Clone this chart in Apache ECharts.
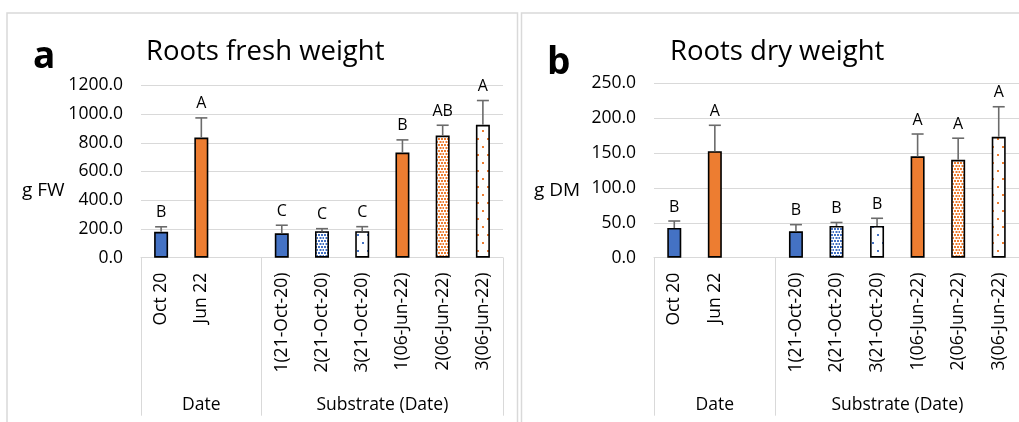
<!DOCTYPE html>
<html>
<head>
<meta charset="utf-8">
<script src="https://cdn.jsdelivr.net/npm/echarts@6/dist/echarts.min.js"></script>
<style>
html,body{margin:0;padding:0;background:#fff;}
#c{width:1019px;height:422px;}
</style>
</head>
<body>
<div id="c"></div>
<script>
// ---- data ----
const categories = ['Oct 20','Jun 22','','1(21-Oct-20)','2(21-Oct-20)','3(21-Oct-20)','1(06-Jun-22)','2(06-Jun-22)','3(06-Jun-22)'];
const fillKinds = ['blue','orange',null,'blue','blueDense','blueSparse','orange','orangeDense','orangeSparse'];
const freshMean = [180, 836, null, 170, 184, 184, 732, 850, 925];
const freshErr  = [35, 137, null, 56, 18, 32, 88, 72, 169];
const freshLetters = ['B','A','','C','C','C','B','AB','A'];
const dryMean = [42.5, 152.5, null, 37.8, 45.4, 45.4, 145, 140, 173];
const dryErr  = [10, 37, null, 9.5, 5, 11, 32, 31, 43];
const dryLetters = ['B','A','','B','B','B','A','A','A'];
const groupLabels = ['Date','Substrate (Date)'];
const groupCenters = [1.5, 6];
const groupBounds = [0, 3, 9];
const freshTicks = {max:1200, interval:200};
const dryTicks = {max:250, interval:50};

const BLUE = '#4472C4', ORANGE = '#ED7D31';
const FONT = 'Open Sans';

function makePattern(color, dense){
  const c = document.createElement('canvas');
  if (dense){
    c.width = 6; c.height = 6;
    const g = c.getContext('2d');
    g.fillStyle = '#fff'; g.fillRect(0,0,6,6);
    g.fillStyle = color;
    g.fillRect(0,0,2,2);
    g.fillRect(3,0,2,2);
    g.fillRect(1.5,3,2,2);
    g.fillRect(4.5,3,2,2);
  } else {
    c.width = 10; c.height = 16;
    const g = c.getContext('2d');
    g.fillStyle = '#fff'; g.fillRect(0,0,10,16);
    g.fillStyle = color;
    g.fillRect(2,2,2,2);
    g.fillRect(7,10,2,2);
  }
  return {image: c, repeat: 'repeat'};
}
const fills = {
  blue: BLUE, orange: ORANGE,
  blueDense: makePattern(BLUE, true), blueSparse: makePattern(BLUE, false),
  orangeDense: makePattern(ORANGE, true), orangeSparse: makePattern(ORANGE, false)
};

function barData(means){
  return means.map((v,i)=> v==null ? '-' : {value:v, itemStyle:{color: fills[fillKinds[i]]}});
}
function errData(means, errs){
  const out = [];
  means.forEach((v,i)=>{ if(v!=null) out.push([i, v, errs[i]]); });
  return out;
}
function errRender(letters){
  return function(params, api){
    const i = api.value(0), m = api.value(1), e = api.value(2);
    const p1 = api.coord([i, m]);
    const p2 = api.coord([i, m+e]);
    const st = {stroke:'#6b6b6b', lineWidth:1.6};
    return {type:'group', children:[
      {type:'line', shape:{x1:p1[0],y1:p1[1],x2:p2[0],y2:p2[1]}, style:st},
      {type:'line', shape:{x1:p2[0]-6,y1:p2[1],x2:p2[0]+6,y2:p2[1]}, style:st},
      {type:'text', x:p2[0], y:p2[1]-6, style:{text:letters[i], fill:'#000', font:'16px "'+FONT+'"', align:'center', verticalAlign:'bottom'}}
    ]};
  };
}

const grids = [
  {left:141, top:85.3, width:362, height:172.4},
  {left:654, top:83, width:370.8, height:174.7}
];

function xAxesFor(gi){
  return [
    {type:'category', gridIndex:gi, data:categories,
     axisLine:{lineStyle:{color:'#d9d9d9', width:1}},
     axisTick:{show:false},
     axisLabel:{rotate:90, margin:15, color:'#000', fontFamily:FONT, fontSize:17.5}},
    {type:'value', gridIndex:gi, position:'bottom', min:0, max:9,
     axisLine:{show:false}, splitLine:{show:false},
     axisTick:{show:true, customValues:groupBounds, length:158, lineStyle:{color:'#d9d9d9', width:1}},
     axisLabel:{customValues:groupCenters, margin:138, color:'#000', fontFamily:FONT, fontSize:17.5,
       formatter:(v)=> groupLabels[groupCenters.indexOf(v)]}}
  ];
}
function yAxisFor(gi, t){
  return {type:'value', gridIndex:gi, min:0, max:t.max, interval:t.interval,
    axisLine:{show:false}, axisTick:{show:false},
    splitLine:{lineStyle:{color:'#d9d9d9', width:1.2}},
    axisLabel:{formatter:(v)=>v.toFixed(1), color:'#000', fontFamily:FONT, fontSize:17.5, margin:18}};
}

const chart = echarts.init(document.getElementById('c'), null, {renderer:'canvas'});
chart.setOption({
  animation:false,
  backgroundColor:'#fff',
  title:[
    {text:'Roots fresh weight', left:141, top:33, textStyle:{fontFamily:FONT, fontSize:27.5, fontWeight:'normal', color:'#000'}},
    {text:'a', left:28, top:34, textStyle:{fontFamily:FONT, fontSize:37, fontWeight:'bold', color:'#000'}},
    {text:'g FW', left:17, top:176, textStyle:{fontFamily:FONT, fontSize:19, fontWeight:'normal', color:'#000'}},
    {text:'Roots dry weight', left:665, top:33, textStyle:{fontFamily:FONT, fontSize:27.5, fontWeight:'normal', color:'#000'}},
    {text:'b', left:542, top:40, textStyle:{fontFamily:FONT, fontSize:37, fontWeight:'bold', color:'#000'}},
    {text:'g DM', left:529, top:176, textStyle:{fontFamily:FONT, fontSize:19, fontWeight:'normal', color:'#000'}}
  ],
  graphic:[
    {type:'rect', shape:{x:7, y:13, width:510.5, height:430}, style:{fill:'none', stroke:'#d9d9d9', lineWidth:1.5}, silent:true, z:-1},
    {type:'rect', shape:{x:521.5, y:13, width:520, height:430}, style:{fill:'none', stroke:'#d9d9d9', lineWidth:1.5}, silent:true, z:-1}
  ],
  grid: grids,
  xAxis: [...xAxesFor(0), ...xAxesFor(1)],
  yAxis: [yAxisFor(0, freshTicks), yAxisFor(1, dryTicks)],
  series:[
    {type:'bar', xAxisIndex:0, yAxisIndex:0, barWidth:14, data:barData(freshMean),
     itemStyle:{borderColor:'#000', borderWidth:1.6}},
    {type:'custom', xAxisIndex:0, yAxisIndex:0, data:errData(freshMean, freshErr), renderItem:errRender(freshLetters), z:3},
    {type:'bar', xAxisIndex:2, yAxisIndex:1, barWidth:14, data:barData(dryMean),
     itemStyle:{borderColor:'#000', borderWidth:1.6}},
    {type:'custom', xAxisIndex:2, yAxisIndex:1, data:errData(dryMean, dryErr), renderItem:errRender(dryLetters), z:3}
  ]
});
</script>
</body>
</html>
